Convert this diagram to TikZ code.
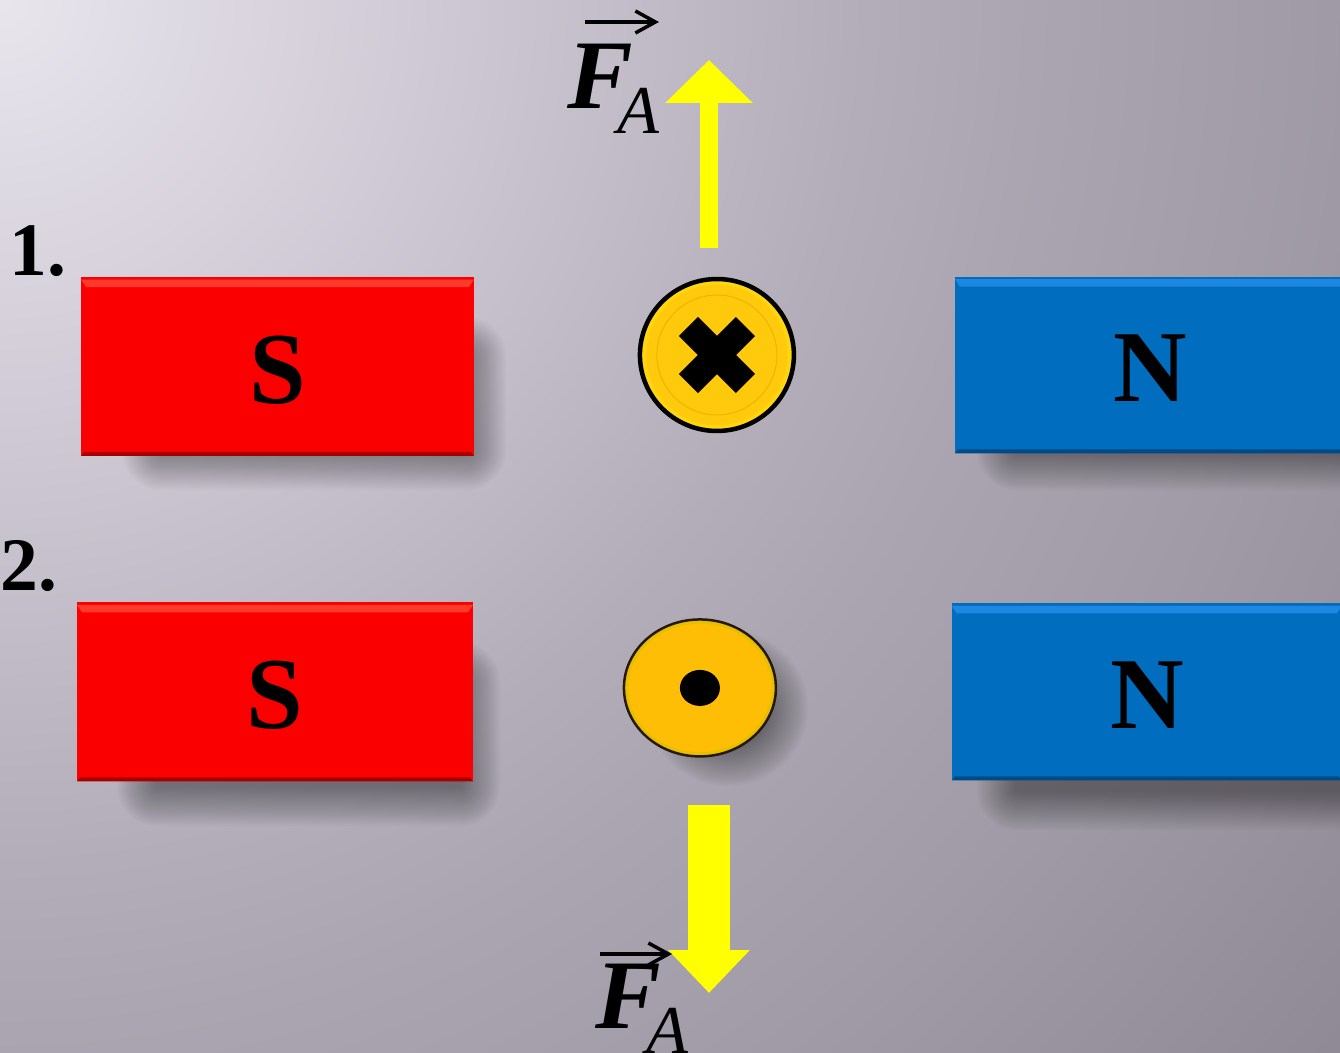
\documentclass[tikz,border=0pt]{standalone}
\usepackage{fontspec}
\setmainfont{Liberation Serif}
\usetikzlibrary{arrows.meta,shapes.geometric}

\definecolor{magred}{HTML}{FB0000}
\definecolor{magredtop}{HTML}{FF3A2A}
\definecolor{magredlow}{HTML}{A80000}
\definecolor{magblue}{HTML}{006DBE}
\definecolor{magbluetop}{HTML}{1C88E2}
\definecolor{magbluelow}{HTML}{004A86}
\definecolor{wirefill}{HTML}{FFC90C}
\definecolor{wirefilltwo}{HTML}{FFBE06}
\definecolor{wirering}{HTML}{EFB400}
\definecolor{wirerim}{HTML}{FFD510}
\definecolor{wirerimtwo}{HTML}{E8BE00}
\definecolor{forcefill}{HTML}{FFFF00}

\pgfdeclareradialshading{backshade}{\pgfpoint{0bp}{0bp}}{
  rgb(0bp)=(0.91,0.90,0.93);
  rgb(4.5bp)=(0.84,0.82,0.86);
  rgb(12.5bp)=(0.70,0.68,0.725);
  rgb(15bp)=(0.667,0.647,0.69);
  rgb(19bp)=(0.627,0.608,0.651);
  rgb(25bp)=(0.557,0.537,0.58);
  rgb(50bp)=(0.557,0.537,0.58)}

% bevel of a magnet: top strip, bottom strip
\newcommand{\bevel}[2]{
  \fill[#1] ([yshift=-0.05cm]path picture bounding box.north west) -- ([yshift=-0.05cm]path picture bounding box.north east)
    -- ([xshift=-0.1cm,yshift=-0.2cm]path picture bounding box.north east)
    -- ([xshift=0.1cm,yshift=-0.2cm]path picture bounding box.north west) -- cycle;
  \fill[#2] (path picture bounding box.south west) -- (path picture bounding box.south east)
    -- ([xshift=-0.06cm,yshift=0.08cm]path picture bounding box.south east)
    -- ([xshift=0.06cm,yshift=0.08cm]path picture bounding box.south west) -- cycle;
}
% soft shadow: x1, y1, x2, y2
\newcommand{\softshadow}[4]{
  \foreach \i in {0,...,19}
    \fill[black, opacity=0.021, rounded corners=\i*0.04cm+1pt] ({#1-\i*2},{#2-\i*2}) rectangle ({#3+\i*2},{#4+\i*2});
}

\tikzstyle{backdrop} = [shading=backshade]
\tikzstyle{magnet} = [rectangle, inner sep=0pt, text=black, text height=42pt, text depth=0pt, font=\fontsize{58}{58}\selectfont\bfseries]
\tikzstyle{southmagnet} = [magnet, minimum width=7.86cm, minimum height=3.58cm, fill=magred, path picture={\bevel{magredtop}{magredlow}}]
\tikzstyle{northmagnet} = [magnet, minimum width=7.8cm, minimum height=3.54cm, fill=magblue, path picture={\bevel{magbluetop}{magbluelow}}]
\tikzstyle{wirecross} = [ellipse, inner sep=0pt, minimum width=3.08cm, minimum height=3.04cm, fill=wirefill, draw=black, line width=0.09cm,
  path picture={\draw[draw=wirerim, line width=0.1cm] (path picture bounding box.center) circle (1.46cm);
                \draw[draw=wirering, line width=0.02cm] (path picture bounding box.center) circle (1.2cm);}]
\tikzstyle{wiredot} = [ellipse, inner sep=0pt, minimum width=3.04cm, minimum height=2.74cm, fill=wirefilltwo, draw=black!80!brown, line width=0.05cm,
  path picture={\draw[draw=wirerimtwo, line width=0.07cm] (path picture bounding box.center) ellipse (1.47cm and 1.32cm);}]
\tikzstyle{crossbar} = [line width=0.54cm, draw=black]
\tikzstyle{dotmark} = [ellipse, inner sep=0pt, minimum width=0.8cm, minimum height=0.72cm, fill=black]
\tikzstyle{number} = [inner sep=0pt, font=\fontsize{43}{43}\selectfont\bfseries]
\tikzstyle{forcename} = [inner sep=0pt, font=\fontsize{56}{56}\selectfont\bfseries\itshape]
\tikzstyle{forceindex} = [inner sep=0pt, font=\fontsize{39}{39}\selectfont\itshape]
\tikzstyle{vecbar} = [draw=black, line width=0.07cm, -{Straight Barb[length=0.4cm,width=0.44cm]}]
\tikzstyle{forceup} = [draw=forcefill, line width=0.36cm, -{Triangle[length=0.86cm,width=1.7cm]}]
\tikzstyle{forcedown} = [draw=forcefill, line width=0.84cm, -{Triangle[length=0.86cm,width=1.58cm]}]

\begin{document}
\begin{tikzpicture}[x=0.02cm, y=-0.02cm, align=center, node distance=1cm]

  \useasboundingbox (0,0) rectangle (1340,1053);
  \clip (0,0) rectangle (1340,1053);
  \shade[backdrop] (0,0) circle (34.4cm);

  % --- %

  \softshadow{160}{355}{468}{452}
  \softshadow{1015}{355}{1400}{452}
  \softshadow{155}{680}{462}{788}
  \softshadow{1015}{680}{1400}{792}
  \foreach \i in {0,...,19}
    \fill[black, opacity=0.018] (728,708) ellipse ({42+\i*2} and {40+\i*2});

  % --- %

  \node (sone) [southmagnet] at (277.5,366.5) {S};
  \node (wireone) [wirecross, right of=sone, xshift=7.79cm, yshift=0.23cm] {};
  \node (none) [northmagnet, right of=wireone, xshift=7.66cm, yshift=-0.2cm] {N};

  \node (stwo) [southmagnet, minimum width=7.92cm, below of=sone, yshift=-5.51cm, xshift=-0.05cm] {S};
  \node (wiretwo) [wiredot, right of=stwo, xshift=7.5cm, yshift=0.08cm] {};
  \node (dottwo) [dotmark] at (wiretwo.center) {};
  \node (ntwo) [northmagnet, below of=none, yshift=-5.54cm, xshift=-0.06cm] {N};

  \draw [crossbar] ([shift={(-28.5,-28.5)}]wireone.center) -- ([shift={(28.5,28.5)}]wireone.center);
  \draw [crossbar] ([shift={(-28.5,28.5)}]wireone.center) -- ([shift={(28.5,-28.5)}]wireone.center);

  \node (numone) [number] at (38,251) {1.};
  \node (numtwo) [number] at (29,566) {2.};

  % --- %

  \coordinate (upstart) at (709,248);
  \coordinate (upend) at (709,60);
  \coordinate (downstart) at (709,805);
  \coordinate (downend) at (709,993);
  \draw [forceup] (upstart) -- (upend);
  \draw [forcedown] (downstart) -- (downend);

  \node (fone) [forcename] at (600,76.5) {F};
  \node (aone) [forceindex] at (638,111) {A};
  \coordinate (vecaone) at (585,22);
  \coordinate (vecbone) at (659,22);
  \draw [vecbar] (vecaone) -- (vecbone);

  \node (ftwo) [forcename] at (628,996.5) {F};
  \node (atwo) [forceindex] at (667,1031) {A};
  \coordinate (vecatwo) at (600,954);
  \coordinate (vecbtwo) at (672,954);
  \draw [vecbar] (vecatwo) -- (vecbtwo);

\end{tikzpicture}
\end{document}
